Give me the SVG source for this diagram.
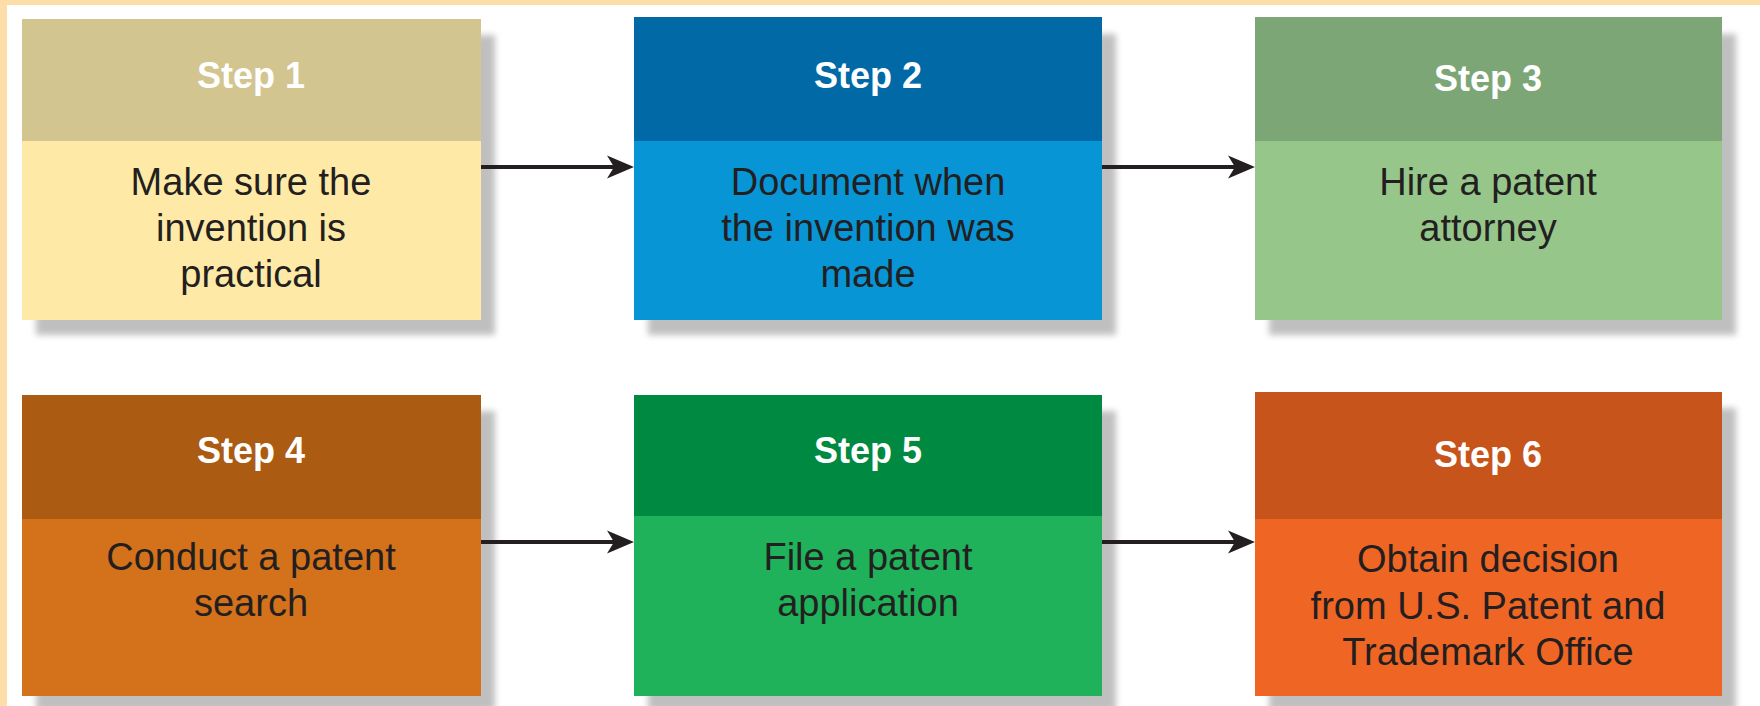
<svg xmlns="http://www.w3.org/2000/svg" width="1760" height="706" viewBox="0 0 1760 706">
  <style>
    .hd { font-family: "Liberation Sans", Arial, sans-serif; font-weight: bold; font-size: 36px; fill: #ffffff; text-anchor: middle; }
    .bd { font-family: "Liberation Sans", Arial, sans-serif; font-size: 38px; fill: #231f20; text-anchor: middle; }
    .conn { stroke: #231f20; stroke-width: 4; fill: none; marker-end: url(#arrow); }
    .shadow { fill: #8c8c8c; opacity: 0.55; filter: url(#blur); }
  </style>
  <defs>
    <filter id="blur" x="-10%" y="-10%" width="120%" height="120%">
      <feGaussianBlur stdDeviation="3"/>
    </filter>
    <marker id="arrow" viewBox="-28 -12 30 24" refX="-14" refY="0" markerWidth="30" markerHeight="24" markerUnits="userSpaceOnUse" orient="auto">
      <path d="M-27,-11.5 L0,0 L-27,11.5 L-20,0 Z" fill="#231f20"/>
    </marker>
  </defs>

  <rect x="0" y="0" width="1760" height="706" fill="#ffffff"/>
  <rect x="0" y="0" width="1760" height="5" fill="#fddda8"/>
  <rect x="0" y="0" width="7" height="706" fill="#fddda8"/>

  <g id="step1">
    <rect class="shadow" x="36" y="35" width="459" height="300"/>
    <rect x="22" y="19" width="459" height="122" fill="#d3c58f"/>
    <rect x="22" y="141" width="459" height="179" fill="#feeaa6"/>
    <text class="hd" x="251" y="88">Step 1</text>
    <text class="bd" x="251" y="195">Make sure the</text>
    <text class="bd" x="251" y="241">invention is</text>
    <text class="bd" x="251" y="287">practical</text>
  </g>

  <g id="step2">
    <rect class="shadow" x="648" y="34" width="468" height="301"/>
    <rect x="634" y="17" width="468" height="124" fill="#0069a6"/>
    <rect x="634" y="141" width="468" height="179" fill="#0795d6"/>
    <text class="hd" x="868" y="88">Step 2</text>
    <text class="bd" x="868" y="195">Document when</text>
    <text class="bd" x="868" y="241">the invention was</text>
    <text class="bd" x="868" y="287">made</text>
  </g>

  <g id="step3">
    <rect class="shadow" x="1269" y="34" width="467" height="301"/>
    <rect x="1255" y="17" width="467" height="124" fill="#7ca676"/>
    <rect x="1255" y="141" width="467" height="179" fill="#96c68a"/>
    <text class="hd" x="1488" y="91">Step 3</text>
    <text class="bd" x="1488" y="195">Hire a patent</text>
    <text class="bd" x="1488" y="241">attorney</text>
  </g>

  <g id="step4">
    <rect class="shadow" x="36" y="411" width="459" height="300"/>
    <rect x="22" y="395" width="459" height="124" fill="#ab5c12"/>
    <rect x="22" y="519" width="459" height="177" fill="#d4711b"/>
    <text class="hd" x="251" y="463">Step 4</text>
    <text class="bd" x="251" y="570">Conduct a patent</text>
    <text class="bd" x="251" y="616">search</text>
  </g>

  <g id="step5">
    <rect class="shadow" x="648" y="411" width="468" height="300"/>
    <rect x="634" y="395" width="468" height="121" fill="#008941"/>
    <rect x="634" y="516" width="468" height="180" fill="#20b25a"/>
    <text class="hd" x="868" y="463">Step 5</text>
    <text class="bd" x="868" y="570">File a patent</text>
    <text class="bd" x="868" y="616">application</text>
  </g>

  <g id="step6">
    <rect class="shadow" x="1269" y="408" width="467" height="303"/>
    <rect x="1255" y="392" width="467" height="127" fill="#c6541b"/>
    <rect x="1255" y="519" width="467" height="177" fill="#ef6524"/>
    <text class="hd" x="1488" y="467">Step 6</text>
    <text class="bd" x="1488" y="572">Obtain decision</text>
    <text class="bd" x="1488" y="619">from U.S. Patent and</text>
    <text class="bd" x="1488" y="665">Trademark Office</text>
  </g>

  <g id="connectors">
    <line class="conn" x1="481" y1="167" x2="620" y2="167"/>
    <line class="conn" x1="1102" y1="167" x2="1241" y2="167"/>
    <line class="conn" x1="481" y1="542" x2="620" y2="542"/>
    <line class="conn" x1="1102" y1="542" x2="1241" y2="542"/>
  </g>
</svg>
